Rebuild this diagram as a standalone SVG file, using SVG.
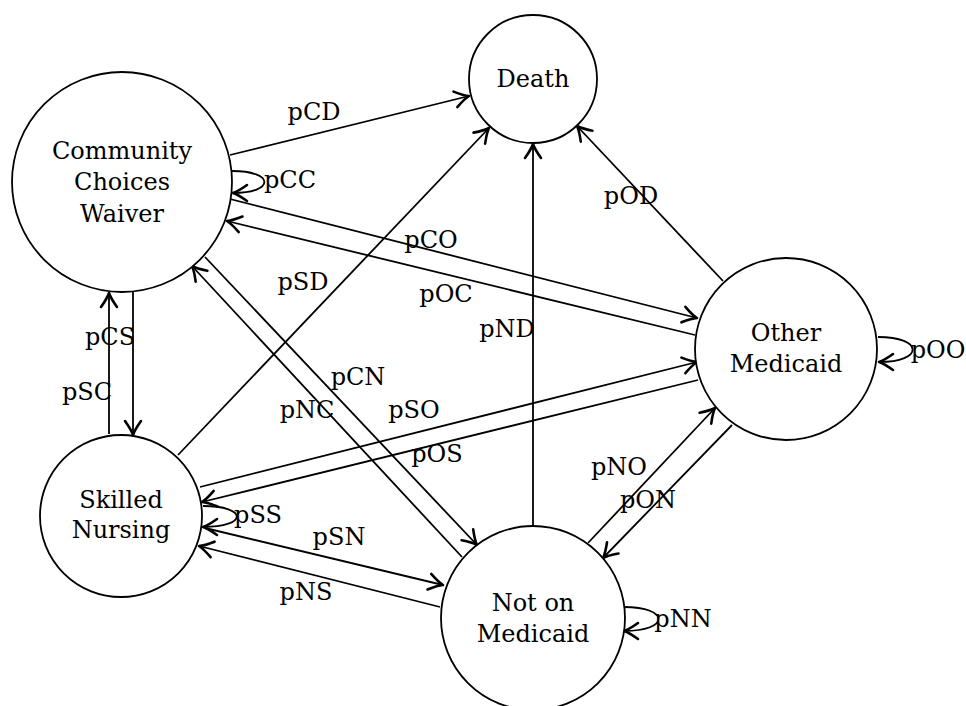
<svg xmlns="http://www.w3.org/2000/svg" width="966" height="706" viewBox="0 0 966 706">
<style>
.node{fill:#fff;stroke:#000;stroke-width:1.8}
.e{fill:none;stroke:#000;stroke-width:1.8;marker-end:url(#ah)}
text{font-family:"DejaVu Serif",serif;font-size:24px;fill:#000;text-anchor:middle}
</style>
<defs>
<marker id="ah" markerUnits="userSpaceOnUse" markerWidth="34" markerHeight="34" viewBox="-17 -17 34 34" refX="0" refY="0" orient="auto">
<path d="M -14 -8 Q -5 -1.6 0 0 Q -5 1.6 -14 8" fill="none" stroke="#000" stroke-width="2.6" stroke-linecap="round" stroke-linejoin="round"/>
</marker>
</defs>
<rect width="966" height="706" fill="#fff"/>
<g id="connectors">
<line class="e" x1="230" y1="155" x2="469" y2="96"/>
<path class="e" d="M 232 171 C 275 171 275 193 233 193"/>
<line class="e" x1="230" y1="199" x2="697" y2="318"/>
<line class="e" x1="695" y1="335" x2="227" y2="221"/>
<line class="e" x1="178" y1="455" x2="489" y2="128"/>
<line class="e" x1="533" y1="526" x2="533" y2="144"/>
<line class="e" x1="723" y1="281" x2="577" y2="126"/>
<line class="e" x1="205" y1="257" x2="477" y2="545"/>
<line class="e" x1="462" y1="557" x2="192" y2="266"/>
<line class="e" x1="200" y1="487" x2="697" y2="362"/>
<line class="e" x1="698" y1="380" x2="202" y2="502"/>
<path class="e" d="M 203 506 C 248 506 248 527 203 527"/>
<line class="e" x1="205" y1="528" x2="443" y2="585"/>
<line class="e" x1="440" y1="607" x2="199" y2="546"/>
<line class="e" x1="109" y1="434" x2="109" y2="293"/>
<line class="e" x1="133" y1="292" x2="133" y2="435"/>
<line class="e" x1="588" y1="543" x2="715" y2="408"/>
<line class="e" x1="732" y1="425" x2="603" y2="558"/>
<path class="e" d="M 878 337 C 924 337 924 362 879 362"/>
<path class="e" d="M 624 607 C 670 607 670 631 624 631"/>
</g>
<g id="edge-labels">
<text x="314" y="120">pCD</text>
<text x="290" y="188">pCC</text>
<text x="431" y="248">pCO</text>
<text x="446" y="302">pOC</text>
<text x="303" y="290">pSD</text>
<text x="507" y="337">pND</text>
<text x="631" y="204">pOD</text>
<text x="358" y="385">pCN</text>
<text x="307" y="418">pNC</text>
<text x="414" y="418">pSO</text>
<text x="437" y="462">pOS</text>
<text x="258" y="523">pSS</text>
<text x="339" y="545">pSN</text>
<text x="306" y="600">pNS</text>
<text x="110" y="345">pCS</text>
<text x="87" y="400">pSC</text>
<text x="619" y="475">pNO</text>
<text x="648" y="508">pON</text>
<text x="938" y="358">pOO</text>
<text x="683" y="627">pNN</text>
</g>
<g id="death">
<circle class="node" cx="533" cy="79" r="64"/>
<text x="533" y="87">Death</text>
</g>
<g id="ccw">
<circle class="node" cx="122" cy="182" r="110"/>
<text x="122" y="159">Community</text>
<text x="122" y="190">Choices</text>
<text x="122" y="222">Waiver</text>
</g>
<g id="other-medicaid">
<circle class="node" cx="786" cy="349" r="91"/>
<text x="786" y="341">Other</text>
<text x="786" y="372">Medicaid</text>
</g>
<g id="skilled-nursing">
<circle class="node" cx="121" cy="516" r="81"/>
<text x="121" y="508">Skilled</text>
<text x="121" y="538">Nursing</text>
</g>
<g id="not-on-medicaid">
<circle class="node" cx="533" cy="618" r="92"/>
<text x="533" y="611">Not on</text>
<text x="533" y="642">Medicaid</text>
</g>
</svg>
